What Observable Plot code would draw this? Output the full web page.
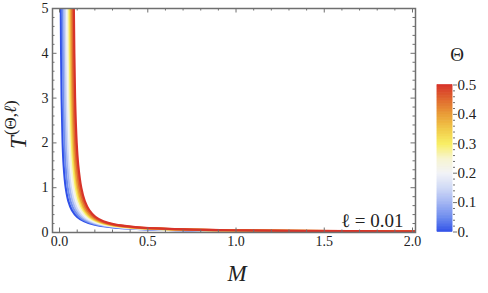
<!DOCTYPE html>
<html><head><meta charset="utf-8">
<script src="https://cdn.jsdelivr.net/npm/d3@7"></script>
<script src="https://cdn.jsdelivr.net/npm/@observablehq/plot@0.6"></script>
<style>
html,body{margin:0;padding:0;background:#fff;}
#wrap{position:relative;width:488px;height:293px;overflow:hidden;background:#fff;}
#wrap svg{position:absolute;top:0;}
</style></head><body><div id="wrap"></div>
<script>
// ---- data ----
const thetaValues = [0, 0.05, 0.1, 0.15, 0.2, 0.25, 0.3, 0.35, 0.4, 0.45, 0.5];
const tLevels = [6, 5, 3, 2, 1.5, 1, 0.7, 0.5, 0.35, 0.25, 0.18, 0.12, 0.08, 0.05, 0.035, 0.025, 0.018];
const mTheta000 = [0.006, 0.007, 0.0117, 0.0175, 0.0233, 0.035, 0.05, 0.07, 0.1, 0.14, 0.194, 0.292, 0.4375, 0.7, 1.0, 1.4, 1.94];
const mTheta005 = [0.015, 0.017, 0.022, 0.028, 0.034, 0.046, 0.062, 0.083, 0.113, 0.154, 0.209, 0.31, 0.462, 0.736, 1.048, 1.468, 2.035];
const mTheta010 = [0.024, 0.026, 0.0315, 0.038, 0.045, 0.058, 0.074, 0.0955, 0.127, 0.168, 0.224, 0.328, 0.486, 0.773, 1.096, 1.535, 2.13];
const mTheta015 = [0.032, 0.034, 0.040, 0.047, 0.054, 0.068, 0.084, 0.106, 0.138, 0.18, 0.237, 0.343, 0.507, 0.804, 1.137, 1.592, 2.21];
const mTheta020 = [0.040, 0.0425, 0.048, 0.056, 0.063, 0.077, 0.095, 0.117, 0.149, 0.192, 0.25, 0.358, 0.528, 0.834, 1.178, 1.65, 2.29];
const mTheta025 = [0.047, 0.049, 0.055, 0.063, 0.070, 0.085, 0.103, 0.126, 0.159, 0.202, 0.26, 0.371, 0.544, 0.86, 1.211, 1.696, 2.356];
const mTheta030 = [0.054, 0.056, 0.062, 0.070, 0.078, 0.093, 0.111, 0.135, 0.168, 0.211, 0.271, 0.383, 0.561, 0.885, 1.244, 1.743, 2.42];
const mTheta035 = [0.060, 0.062, 0.068, 0.076, 0.085, 0.100, 0.119, 0.1425, 0.176, 0.22, 0.28, 0.394, 0.576, 0.907, 1.274, 1.785, 2.48];
const mTheta040 = [0.065, 0.067, 0.0735, 0.082, 0.090, 0.106, 0.125, 0.149, 0.183, 0.2275, 0.288, 0.404, 0.589, 0.927, 1.30, 1.821, 2.53];
const mTheta045 = [0.072, 0.0736, 0.080, 0.089, 0.098, 0.114, 0.134, 0.158, 0.193, 0.237, 0.298, 0.416, 0.606, 0.952, 1.333, 1.868, 2.60];
const mTheta050 = [0.079, 0.081, 0.088, 0.097, 0.106, 0.123, 0.143, 0.168, 0.203, 0.248, 0.31, 0.43, 0.625, 0.98, 1.37, 1.92, 2.67];

const xMajorTicks = [0, 0.5, 1, 1.5, 2];
const xTickLabels = ["0.0", "0.5", "1.0", "1.5", "2.0"];
const xMinorTicks = [0.1, 0.2, 0.3, 0.4, 0.6, 0.7, 0.8, 0.9, 1.1, 1.2, 1.3, 1.4, 1.6, 1.7, 1.8, 1.9];
const yMajorTicks = [0, 1, 2, 3, 4, 5];
const yTickLabels = ["0", "1", "2", "3", "4", "5"];
const yMinorTicks = [0.2, 0.4, 0.6, 0.8, 1.2, 1.4, 1.6, 1.8, 2.2, 2.4, 2.6, 2.8, 3.2, 3.4, 3.6, 3.8, 4.2, 4.4, 4.6, 4.8];
const legendTicks = [0, 0.1, 0.2, 0.3, 0.4, 0.5];
const legendTickLabels = ["0.", "0.1", "0.2", "0.3", "0.4", "0.5"];
const legendMinorTicks = [0.02, 0.04, 0.06, 0.08, 0.12, 0.14, 0.16, 0.18, 0.22, 0.24, 0.26, 0.28, 0.32, 0.34, 0.36, 0.38, 0.42, 0.44, 0.46, 0.48];

// ---- table ----
const curveArrays = [mTheta000, mTheta005, mTheta010, mTheta015, mTheta020, mTheta025, mTheta030, mTheta035, mTheta040, mTheta045, mTheta050];
const table = [];
curveArrays.forEach((arr, i) => arr.forEach((m, j) => table.push({theta: thetaValues[i], M: m, T: tLevels[j]})));

// TemperatureMap-like colors
const tempColor = d3.scaleLinear()
  .domain([0, 0.05, 0.1, 0.15, 0.2, 0.25, 0.3, 0.35, 0.4, 0.45, 0.5])
  .range(["#3050e8", "#6e8cee", "#a3b5f2", "#d0daf6", "#f2f3f7", "#f7f4cf", "#f8ee62", "#f1c948", "#e99c36", "#e0682d", "#d73329"])
  .interpolate(d3.interpolateRgb).clamp(true);

const W = 488, H = 293;
const mL = 52, mT = 8, mR = 73, mB = 61;
const innerW = W - mL - mR, innerH = H - mT - mB;
const serif = "Liberation Serif";
const frameColor = "#6f6f6f";

function serifize(svg) {
  svg.removeAttribute("class");
  svg.querySelectorAll("style").forEach(st => st.remove());
  svg.setAttribute("font-family", serif);
  svg.style.fontFamily = "'Liberation Serif'";
  svg.querySelectorAll("[class]").forEach(el => el.removeAttribute("class"));
  svg.querySelectorAll("[font-family]").forEach(el => el.setAttribute("font-family", serif));
}

const mainSvg = Plot.plot({
  width: W, height: H,
  marginLeft: mL, marginTop: mT, marginRight: mR, marginBottom: mB,
  style: {fontFamily: "'Liberation Serif'", fontSize: "14px", color: "#222", background: "transparent"},
  x: {domain: [-0.04, 2.017], label: null},
  y: {domain: [0, 5], label: null},
  marks: [
    Plot.line(table, {x: "M", y: "T", z: "theta", stroke: d => tempColor(d.theta), strokeWidth: 2.2, curve: "catmull-rom", clip: true}),
    Plot.ruleX(xMajorTicks, {stroke: frameColor, strokeWidth: 1, insetTop: innerH - 4.5}),
    Plot.ruleX(xMinorTicks, {stroke: frameColor, strokeWidth: 1, insetTop: innerH - 2.5}),
    Plot.ruleX(xMajorTicks, {stroke: frameColor, strokeWidth: 1, insetBottom: innerH - 4.5}),
    Plot.ruleX(xMinorTicks, {stroke: frameColor, strokeWidth: 1, insetBottom: innerH - 2.5}),
    Plot.ruleY(yMajorTicks, {stroke: frameColor, strokeWidth: 1, insetRight: innerW - 4.5}),
    Plot.ruleY(yMinorTicks, {stroke: frameColor, strokeWidth: 1, insetRight: innerW - 2.5}),
    Plot.ruleY(yMajorTicks, {stroke: frameColor, strokeWidth: 1, insetLeft: innerW - 4.5}),
    Plot.ruleY(yMinorTicks, {stroke: frameColor, strokeWidth: 1, insetLeft: innerW - 2.5}),
    Plot.frame({stroke: frameColor, strokeWidth: 1.5}),
    Plot.axisX(xMajorTicks, {tickSize: 0, tickPadding: 4, fontSize: 14, tickFormat: d => xTickLabels[xMajorTicks.indexOf(d)]}),
    Plot.axisY(yMajorTicks, {tickSize: 0, tickPadding: 4, fontSize: 14, tickFormat: d => yTickLabels[yMajorTicks.indexOf(d)]}),
    Plot.text(["ℓ = 0.01"], {text: d => d, frameAnchor: "bottom-right", dx: -12, dy: -6, fontSize: 19, fill: "#222"})
  ]
});
document.getElementById("wrap").appendChild(mainSvg);
mainSvg.style.left = "0px";
serifize(mainSvg);

// ---- color bar legend ----
const step = 0.0025;
const legendSteps = d3.range(0, 0.5, step);
const legendSvg = Plot.plot({
  width: 60, height: H,
  marginLeft: 9, marginRight: 36, marginTop: 84.5, marginBottom: 61.5,
  style: {fontFamily: "'Liberation Serif'", fontSize: "15px", color: "#222", background: "transparent"},
  x: {domain: [0, 1], axis: null},
  y: {domain: [0, 0.5], label: null},
  marks: [
    Plot.rect(legendSteps, {x1: 0, x2: 1, y1: d => d, y2: d => d + step, fill: d => tempColor(d + step / 2), stroke: d => tempColor(d + step / 2), strokeWidth: 0.6}),
    Plot.axisY(legendMinorTicks, {anchor: "right", tickSize: 2, stroke: frameColor, tickFormat: () => ""}),
    Plot.axisY(legendTicks, {anchor: "right", tickSize: 4, tickPadding: 1, fontSize: 15, stroke: frameColor, tickFormat: d => legendTickLabels[legendTicks.indexOf(d)]})
  ]
});
document.getElementById("wrap").appendChild(legendSvg);
legendSvg.style.left = "428px";
serifize(legendSvg);

// ---- axis titles (plain SVG overlay) ----
const ov = d3.select("#wrap").append("svg").attr("width", W).attr("height", H)
  .style("left", "0px").style("pointer-events", "none")
  .attr("font-family", serif).attr("fill", "#222");
ov.append("text").attr("x", 237).attr("y", 281).attr("text-anchor", "middle")
  .attr("font-style", "italic").attr("font-size", 23).text("M");
const yl = ov.append("text").attr("transform", "translate(26,149) rotate(-90)");
yl.append("tspan").attr("font-style", "italic").attr("font-size", 23).text("T");
yl.append("tspan").attr("font-size", 17).attr("dy", -10).attr("dx", 1).text("(Θ,");
yl.append("tspan").attr("font-size", 17).attr("font-style", "italic").text("ℓ");
yl.append("tspan").attr("font-size", 17).text(")");
ov.append("text").attr("x", 457).attr("y", 61).attr("text-anchor", "middle")
  .attr("font-size", 19).text("Θ");
</script></body></html>
